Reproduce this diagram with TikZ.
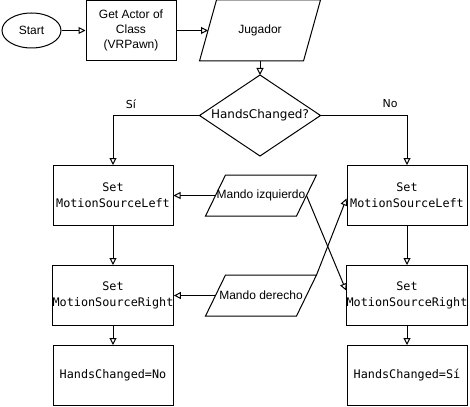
\documentclass[tikz,border=0pt]{standalone}
\usepackage{fontspec}
\setmainfont{Liberation Sans}
\newfontfamily\monof{DejaVu Sans Mono}
\newfontfamily\dvf{DejaVu Sans}
\usetikzlibrary{arrows.meta,calc,shapes.geometric}
\begin{document}
\begin{tikzpicture}[x=1pt,y=-1pt,line width=1pt,
  conn/.style={-{Triangle[open,length=7pt,width=7pt]}},
  sanstxt/.style={font=\fontsize{12}{15}\selectfont,align=center},
  procbox/.style={draw,minimum width=120,minimum height=60,inner sep=0pt,align=center,font=\monof\fontsize{11.8}{16}\selectfont},
  plain/.style={inner sep=0pt}]
\useasboundingbox[fill=white] (0,0) rectangle (470,406);
% top row
\node[draw,ellipse,minimum width=59,minimum height=35,inner sep=0pt,sanstxt] (start) at (31.5,30.5) {Start};
\node[draw,minimum width=90,minimum height=60,inner sep=0pt,sanstxt] (get) at (131,30.5) {Get Actor of\\Class\\(VRPawn)};
\node[plain,minimum width=120,minimum height=60,sanstxt] (jug) at (260,30.5) {Jugador};
\draw (jug.south west) -- ($(jug.south east)+(-17,0)$) -- (jug.north east) -- ($(jug.north west)+(17,0)$) -- cycle;
\coordinate (jugin) at ($(jug.west)+(8.5,0)$);
% decision
\node[plain,minimum width=120,minimum height=80,font=\dvf\fontsize{12}{15}\selectfont] (dec) at (260,115.5) {HandsChanged?};
\draw (dec.north) -- (dec.east) -- (dec.south) -- (dec.west) -- cycle;
% columns
\node[procbox] (l1) at (113,195.5) {Set\\MotionSourceLeft};
\node[procbox] (l2) at (113,295.5) {Set\\MotionSourceRight};
\node[procbox] (l3) at (113,375.5) {HandsChanged=No};
\node[procbox] (r1) at (407,195.5) {Set\\MotionSourceLeft};
\node[procbox] (r2) at (407,295.5) {Set\\MotionSourceRight};
\node[procbox] (r3) at (407,375.5) {HandsChanged=Sí};
% inputs
\node[plain,minimum width=110,minimum height=40,sanstxt] (mi) at (261,195.5) {Mando izquierdo};
\draw (mi.south west) -- ($(mi.south east)+(-20,0)$) -- (mi.north east) -- ($(mi.north west)+(20,0)$) -- cycle;
\node[plain,minimum width=110,minimum height=40,sanstxt] (md) at (261,295.5) {Mando derecho};
\draw (md.south west) -- ($(md.south east)+(-20,0)$) -- (md.north east) -- ($(md.north west)+(20,0)$) -- cycle;
\coordinate (miL) at ($(mi.west)+(10,0)$);
\coordinate (miR) at ($(mi.east)+(-10,0)$);
\coordinate (mdL) at ($(md.west)+(10,0)$);
\coordinate (r1in) at ($(r1.west)+(0,3)$);
\coordinate (r2in) at ($(r2.west)+(0,-5)$);
% connectors
\draw[conn] (start) -- (get);
\draw[conn] (get) -- (jugin);
\draw[conn] (jug.south) -- (dec.north);
\draw[conn] (dec.west) -| (l1.north);
\draw[conn] (dec.east) -| (r1.north);
\node[font=\dvf\fontsize{11}{13}\selectfont] (si) at (131,104) {Sí};
\node[font=\dvf\fontsize{11}{13}\selectfont] (no) at (390,104) {No};
\draw[conn] (l1) -- (l2);
\draw[conn] (l2) -- (l3);
\draw[conn] (r1) -- (r2);
\draw[conn] (r2) -- (r3);
\draw[conn] (miL) -- (l1.east);
\draw[conn] (mdL) -- (l2.east);
\draw[conn] (miR) -- (r2in);
\draw[conn] (md.north east) -- (r1in);
\end{tikzpicture}
\end{document}
